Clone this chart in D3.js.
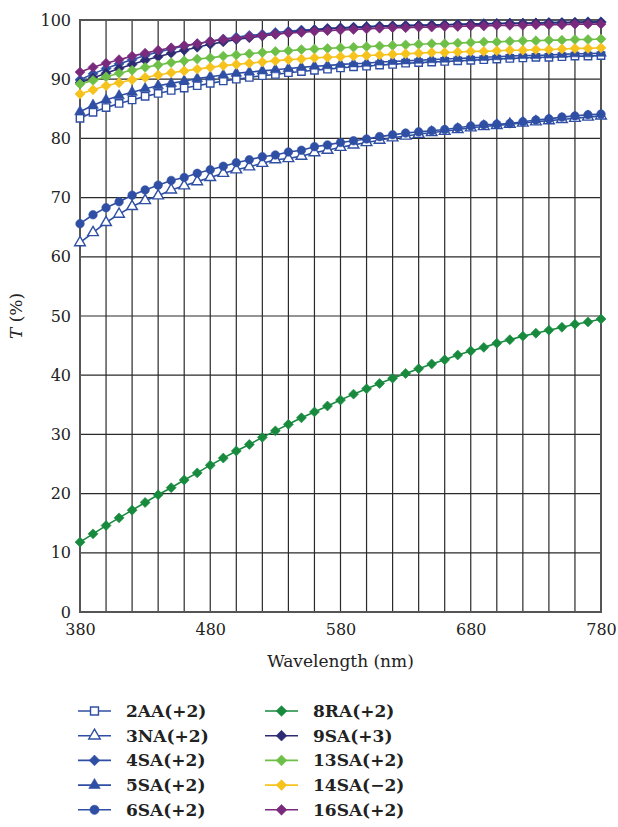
<!DOCTYPE html>
<html>
<head>
<meta charset="utf-8">
<script src="https://cdn.jsdelivr.net/npm/d3@7"></script>
<style>
  body { margin: 0; background: #fff; }
</style>
</head>
<body>
<div id="chart"></div>
<script>
// Wavelengths (nm), one point every 10 nm
const wavelengths = d3.range(380, 781, 10);

// Transmittance (%)
const t2AA = [83.4, 84.4, 85.2, 85.9, 86.5, 87.1, 87.6, 88.1, 88.5, 88.9, 89.3, 89.7, 90.0, 90.3, 90.6, 90.8, 91.1, 91.3, 91.5, 91.7, 91.9,
  92.1, 92.2, 92.4, 92.5, 92.7, 92.8, 92.9, 93.0, 93.1, 93.2, 93.3, 93.4, 93.5, 93.6, 93.7, 93.7, 93.8, 93.9, 93.9, 94.0];
const t3NA = [62.4, 64.1, 65.8, 67.2, 68.5, 69.5, 70.3, 71.3, 72.0, 72.7, 73.4, 74.1, 74.7, 75.2, 75.8, 76.4, 76.6, 77.0, 77.6, 78.0, 78.5,
  78.9, 79.3, 79.7, 80.1, 80.4, 80.7, 81.0, 81.2, 81.5, 81.8, 82.0, 82.2, 82.4, 82.6, 82.8, 83.0, 83.2, 83.4, 83.6, 83.8];
const t4SA = [89.9, 90.9, 91.8, 92.6, 93.3, 94.0, 94.6, 95.1, 95.6, 96.0, 96.4, 96.8, 97.1, 97.4, 97.6, 97.9, 98.1, 98.3, 98.4, 98.6, 98.7,
  98.8, 98.9, 99.0, 99.0, 99.1, 99.1, 99.2, 99.2, 99.3, 99.3, 99.4, 99.4, 99.5, 99.5, 99.5, 99.6, 99.6, 99.6, 99.7, 99.7];
const t5SA = [84.5, 85.6, 86.5, 87.2, 87.8, 88.4, 88.9, 89.3, 89.7, 90.1, 90.4, 90.7, 91.0, 91.2, 91.4, 91.6, 91.8, 92.0, 92.2, 92.3, 92.5,
  92.6, 92.7, 92.9, 93.0, 93.1, 93.2, 93.3, 93.4, 93.5, 93.6, 93.7, 93.8, 93.9, 94.0, 94.0, 94.1, 94.2, 94.3, 94.3, 94.4];
const t6SA = [65.6, 67.1, 68.3, 69.3, 70.4, 71.3, 72.1, 72.9, 73.4, 74.1, 74.7, 75.3, 75.9, 76.4, 76.9, 77.2, 77.7, 78.0, 78.6, 78.9, 79.3,
  79.6, 79.9, 80.3, 80.6, 80.9, 81.1, 81.3, 81.5, 81.8, 82.1, 82.3, 82.4, 82.5, 82.8, 83.1, 83.3, 83.6, 83.8, 84.0, 84.1];
const t8RA = [11.8, 13.2, 14.6, 15.9, 17.2, 18.5, 19.8, 21.0, 22.3, 23.5, 24.8, 26.0, 27.2, 28.3, 29.5, 30.6, 31.7, 32.8, 33.8, 34.8, 35.8,
  36.8, 37.7, 38.6, 39.5, 40.3, 41.1, 41.9, 42.6, 43.4, 44.1, 44.7, 45.4, 46.0, 46.6, 47.1, 47.6, 48.1, 48.6, 49.0, 49.5];
const t9SA = [89.4, 90.2, 91.0, 91.8, 92.5, 93.2, 93.8, 94.4, 94.9, 95.4, 95.9, 96.3, 96.7, 97.0, 97.3, 97.6, 97.9, 98.1, 98.3, 98.5, 98.6,
  98.7, 98.8, 98.9, 99.0, 99.0, 99.1, 99.1, 99.2, 99.2, 99.3, 99.3, 99.4, 99.4, 99.4, 99.5, 99.5, 99.5, 99.6, 99.6, 99.6];
const t13SA = [89.2, 89.8, 90.4, 91.0, 91.5, 92.0, 92.4, 92.8, 93.1, 93.4, 93.6, 93.9, 94.1, 94.3, 94.5, 94.7, 94.8, 95.0, 95.1, 95.2, 95.3,
  95.4, 95.5, 95.6, 95.7, 95.8, 95.9, 96.0, 96.0, 96.1, 96.2, 96.3, 96.3, 96.4, 96.5, 96.5, 96.6, 96.6, 96.7, 96.7, 96.8];
const t14SA = [87.5, 88.2, 88.9, 89.4, 89.9, 90.3, 90.7, 91.1, 91.4, 91.7, 92.0, 92.3, 92.5, 92.7, 92.9, 93.1, 93.3, 93.4, 93.6, 93.7, 93.8,
  93.9, 94.0, 94.1, 94.2, 94.3, 94.4, 94.5, 94.5, 94.6, 94.7, 94.7, 94.8, 94.9, 94.9, 95.0, 95.0, 95.1, 95.2, 95.2, 95.3];
const t16SA = [91.2, 92.0, 92.7, 93.3, 93.9, 94.4, 94.9, 95.3, 95.7, 96.0, 96.4, 96.7, 96.9, 97.2, 97.4, 97.6, 97.8, 97.9, 98.1, 98.2, 98.3,
  98.4, 98.5, 98.6, 98.7, 98.7, 98.8, 98.8, 98.9, 98.9, 99.0, 99.0, 99.1, 99.1, 99.1, 99.2, 99.2, 99.2, 99.3, 99.3, 99.3];

const seriesNames = ["2AA(+2)", "3NA(+2)", "4SA(+2)", "5SA(+2)", "6SA(+2)", "8RA(+2)", "9SA(+3)", "13SA(+2)", "14SA(\u22122)", "16SA(+2)"];
const seriesValues = [t2AA, t3NA, t4SA, t5SA, t6SA, t8RA, t9SA, t13SA, t14SA, t16SA];

const xTicks = [380, 480, 580, 680, 780];
const yTicks = d3.range(0, 101, 10);

const serif = "DejaVu Serif";

// Styles
const blue = "#2f4fa4";
const styles = [
  { color: blue, shape: "square", filled: false },
  { color: blue, shape: "triangle", filled: false },
  { color: blue, shape: "diamond", filled: true },
  { color: blue, shape: "triangle", filled: true },
  { color: blue, shape: "circle", filled: true },
  { color: "#178a3e", shape: "diamond", filled: true },
  { color: "#2c2b74", shape: "diamond", filled: true },
  { color: "#6dbf48", shape: "diamond", filled: true },
  { color: "#f6c21c", shape: "diamond", filled: true },
  { color: "#7a2a7c", shape: "diamond", filled: true }
];

const series = seriesNames.map((name, i) => ({
  name: name,
  style: styles[i],
  points: wavelengths.map((w, j) => ({ x: w, y: seriesValues[i][j] }))
}));

const W = 618, H = 827;
const margin = { left: 80, top: 20 };
const plotW = 521, plotH = 592;

const svg = d3.select("#chart").append("svg")
  .attr("width", W)
  .attr("height", H)
  .style("font-family", serif);

const xScale = d3.scaleLinear().domain([380, 780]).range([margin.left, margin.left + plotW]);
const yScale = d3.scaleLinear().domain([0, 100]).range([margin.top + plotH, margin.top]);

// Grid
const grid = svg.append("g");
grid.selectAll(".vgrid")
  .data(d3.range(400, 780, 20))
  .enter().append("line")
  .attr("x1", d => xScale(d)).attr("x2", d => xScale(d))
  .attr("y1", yScale(0)).attr("y2", yScale(100))
  .attr("stroke", "#2a2a2a").attr("stroke-width", 1.2);
grid.selectAll(".hgrid")
  .data(d3.range(10, 100, 10))
  .enter().append("line")
  .attr("x1", xScale(380)).attr("x2", xScale(780))
  .attr("y1", d => yScale(d)).attr("y2", d => yScale(d))
  .attr("stroke", "#2a2a2a").attr("stroke-width", 1.2);
grid.append("rect")
  .attr("x", xScale(380)).attr("y", yScale(100))
  .attr("width", xScale(780) - xScale(380)).attr("height", yScale(0) - yScale(100))
  .attr("fill", "none").attr("stroke", "#555").attr("stroke-width", 2);

// Axes
const xAxis = d3.axisBottom(xScale).tickValues(xTicks).tickSize(0).tickPadding(12);
const yAxis = d3.axisLeft(yScale).tickValues(yTicks).tickSize(0).tickPadding(9);

svg.append("g")
  .attr("transform", "translate(0," + yScale(0) + ")")
  .call(xAxis)
  .call(g => g.select(".domain").remove())
  .selectAll("text")
  .style("font-family", serif)
  .style("font-size", "16px")
  .attr("fill", "#222");

svg.append("g")
  .attr("transform", "translate(" + xScale(380) + ",0)")
  .call(yAxis)
  .call(g => g.select(".domain").remove())
  .selectAll("text")
  .style("font-family", serif)
  .style("font-size", "16px")
  .attr("fill", "#222");

svg.append("text")
  .attr("x", (xScale(380) + xScale(780)) / 2)
  .attr("y", 667)
  .attr("text-anchor", "middle")
  .style("font-family", serif)
  .style("font-size", "17px")
  .attr("fill", "#222")
  .text("Wavelength (nm)");

const yLabel = svg.append("text")
  .attr("transform", "translate(22," + yScale(50) + ") rotate(-90)")
  .attr("text-anchor", "middle")
  .style("font-family", serif)
  .style("font-size", "17px")
  .attr("fill", "#222");
yLabel.append("tspan").style("font-style", "italic").text("T");
yLabel.append("tspan").text(" (%)");

// Marker helper
function marker(sel, style, size) {
  let sym;
  if (style.shape === "square") sym = d3.symbol(d3.symbolSquare, size * 1.05);
  else if (style.shape === "triangle") sym = d3.symbol(d3.symbolTriangle, size * 0.95);
  else if (style.shape === "circle") sym = d3.symbol(d3.symbolCircle, size * 1.1);
  else sym = d3.symbol(d3.symbolSquare, size * 0.95);
  sel.attr("d", sym)
    .attr("fill", style.filled ? style.color : "#fff")
    .attr("stroke", style.color)
    .attr("stroke-width", style.filled ? 0.6 : 1.4);
  if (style.shape === "diamond") sel.attr("transform", function() {
    return d3.select(this).attr("transform") + " rotate(45)";
  });
}

// Lines and markers
const line = d3.line().x(d => xScale(d.x)).y(d => yScale(d.y));

series.forEach(s => {
  const g = svg.append("g");
  g.append("path")
    .datum(s.points)
    .attr("d", line)
    .attr("fill", "none")
    .attr("stroke", s.style.color)
    .attr("stroke-width", 1.6);
  g.selectAll("path.mk")
    .data(s.points)
    .enter().append("path")
    .attr("class", "mk")
    .attr("transform", d => "translate(" + xScale(d.x) + "," + yScale(d.y) + ")")
    .call(marker, s.style, 52);
});

// Legend
const legend = svg.append("g");
series.forEach((s, i) => {
  const col = Math.floor(i / 5), row = i % 5;
  const x0 = 78 + col * 187, y0 = 711 + row * 24.7;
  legend.append("line")
    .attr("x1", x0).attr("x2", x0 + 33)
    .attr("y1", y0).attr("y2", y0)
    .attr("stroke", s.style.color).attr("stroke-width", 1.6);
  legend.append("path")
    .attr("transform", "translate(" + (x0 + 16.5) + "," + y0 + ")")
    .call(marker, s.style, 60);
  legend.append("text")
    .attr("x", x0 + 48).attr("y", y0 + 6)
    .style("font-family", serif)
    .style("font-size", "17px")
    .style("font-weight", "bold")
    .attr("fill", "#222")
    .text(s.name);
});
</script>
</body>
</html>
